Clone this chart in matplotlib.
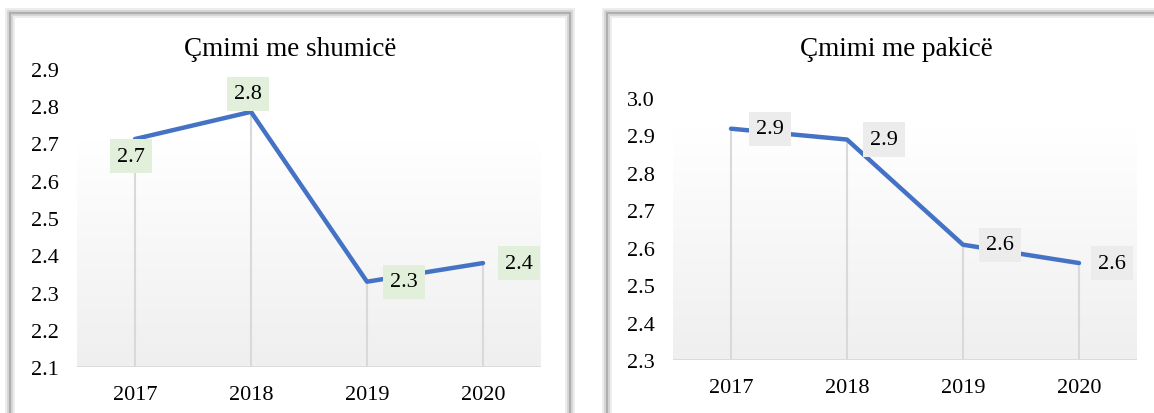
import numpy as np
import matplotlib.pyplot as plt
from matplotlib.patches import Rectangle

years = ["2017", "2018", "2019", "2020"]
wholesale = [2.712, 2.785, 2.329, 2.379]
wholesale_labels = ["2.7", "2.8", "2.3", "2.4"]
retail = [2.918, 2.889, 2.608, 2.559]
retail_labels = ["2.9", "2.9", "2.6", "2.6"]

plt.rcParams['font.family'] = ['Liberation Serif', 'DejaVu Serif']

LINE = "#4472c4"
DROP = "#d9d9d9"


def draw_panel(fig, x0, y0, x1, y1):
    W, H = fig.get_size_inches() * fig.dpi
    rect = (x0 / W, 1 - y1 / H, (x1 - x0) / W, (y1 - y0) / H)
    for lw, c in [(7, "#ececec"), (4, "#d2d2d2"), (1.2, "#a8a8a8")]:
        fig.patches.append(Rectangle(rect[:2], rect[2], rect[3], transform=fig.transFigure,
                                     fill=False, edgecolor=c, linewidth=lw, zorder=0))


def make_chart(ax, values, labels, ylo, yhi, box_color, offsets):
    x = np.arange(len(years))
    ax.set_xlim(-0.5, len(years) - 0.5)
    ax.set_ylim(ylo, yhi)

    # soft gradient behind the plot, starting at first value
    top = values[0]
    grad = np.linspace(0, 1, 200).reshape(-1, 1)
    c0 = np.array([1.0, 1.0, 1.0])
    c1 = np.array([0.937, 0.937, 0.937])
    img = c0 * (1 - grad[..., None]) + c1 * grad[..., None]
    img = img.reshape(200, 1, 3)
    ax.imshow(img, extent=(-0.5, len(years) - 0.5, ylo, top), aspect="auto",
              origin="upper", zorder=0)

    ax.vlines(x, ylo, values, color=DROP, linewidth=1.5, zorder=1)
    ax.plot(x, values, color=LINE, linewidth=3.2, solid_capstyle="round", zorder=3)
    ax.axhline(ylo, color=DROP, linewidth=2, zorder=2)

    for xi, v, lab, off in zip(x, values, labels, offsets):
        ax.annotate(lab, xy=(xi, v), xytext=off, textcoords="offset points",
                    ha="center", va="center", fontsize=16, zorder=4,
                    bbox=dict(boxstyle="square,pad=0.34", fc=box_color, ec="none"))

    ticks = np.round(np.arange(ylo, yhi + 0.001, 0.1), 1)
    ax.set_xticks(x)
    ax.set_xticklabels(years, fontsize=16)
    ax.set_yticks(ticks)
    ax.set_yticklabels([f"{t:.1f}" for t in ticks], fontsize=16)
    ax.tick_params(axis="both", length=0)
    ax.tick_params(axis="y", pad=13)
    ax.tick_params(axis="x", pad=13)
    for s in ax.spines.values():
        s.set_visible(False)
    ax.set_facecolor("none")


fig = plt.figure(figsize=(11.54, 4.14), dpi=100)
draw_panel(fig, 10, 14, 570, 420)
draw_panel(fig, 607, 14, 1170, 420)

W, H = 1154, 414
ax1 = fig.add_axes([77 / W, (414 - 368) / H, 464 / W, 298 / H])
ax2 = fig.add_axes([673 / W, (414 - 361) / H, 464 / W, 262 / H])

px = 0.72
make_chart(ax1, wholesale, wholesale_labels, 2.1, 2.9, "#e2efda",
           [(-4 * px, -17 * px), (-3 * px, 18 * px), (37 * px, 0), (36 * px, 0)])
make_chart(ax2, retail, retail_labels, 2.3, 3.0, "#ececec",
           [(39 * px, 0), (37 * px, 0), (37 * px, 0), (33 * px, 0)])

fig.text(290 / W, 1 - 50 / H, "Çmimi me shumicë", ha="center", va="center", fontsize=19.5)
fig.text(896 / W, 1 - 50 / H, "Çmimi me pakicë", ha="center", va="center", fontsize=19.5)

fig.savefig("out.png", dpi=100)
